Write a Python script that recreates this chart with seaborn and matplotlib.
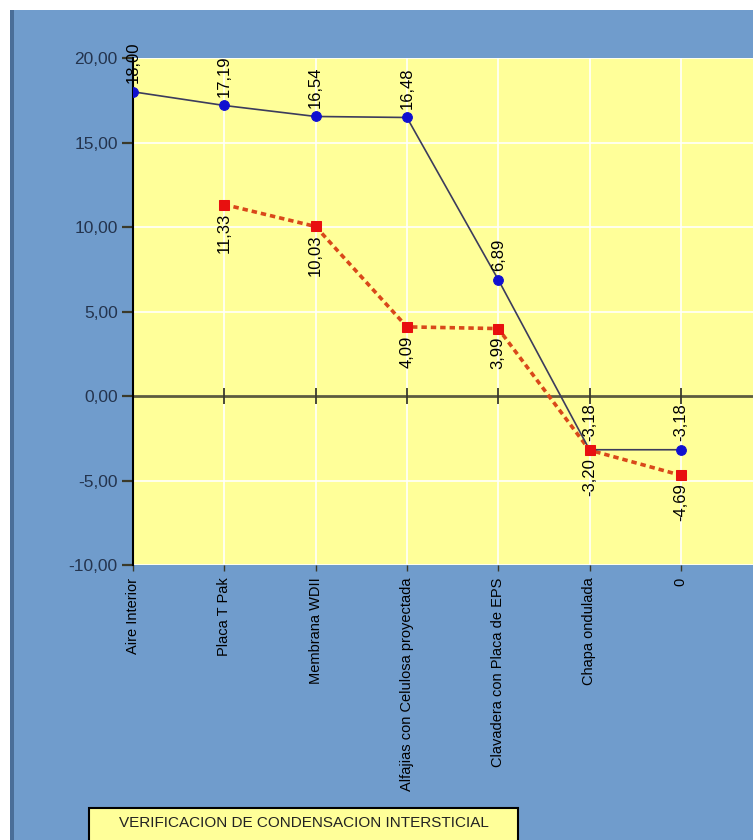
import numpy as np
import pandas as pd
import matplotlib
matplotlib.use('Agg')
import matplotlib.pyplot as plt
from matplotlib.patches import Rectangle
import seaborn as sns

# --- data ---
capas = ['Aire Interior', 'Placa T Pak', 'Membrana WDII', 'Alfajias con Celulosa proyectada',
         'Clavadera con Placa de EPS', 'Chapa ondulada', '0']
temp = [18.00, 17.19, 16.54, 16.48, 6.89, -3.18, -3.18]
rocio = [np.nan, 11.33, 10.03, 4.09, 3.99, -3.20, -4.69]
y_ticks = [20, 15, 10, 5, 0, -5, -10]

df = pd.DataFrame({'pos': range(len(capas)), 'capa': capas, 'temp': temp, 'rocio': rocio})

sns.set_style('white')
plt.rcParams['font.family'] = ['Liberation Sans', 'DejaVu Sans']

W, H = 753, 840
fig = plt.figure(figsize=(W / 100, H / 100), dpi=100, facecolor='white')

# blue panel + darker left border (behind the axes)
fig.patches.append(Rectangle((10 / W, 0), 1 - 10 / W, 1 - 10 / H, transform=fig.transFigure,
                             facecolor='#709CCC', edgecolor='none', zorder=-2))
fig.patches.append(Rectangle((10 / W, 0), 4 / W, 1 - 10 / H, transform=fig.transFigure,
                             facecolor='#4A6E98', edgecolor='none', zorder=-1))

ax = fig.add_axes([133 / W, 1 - 565 / H, 1 - 133 / W, (565 - 58) / H])
ax.set_facecolor('#FFFF99')

step = 91.3
ax.set_xlim(0, (W - 133) / step)
ax.set_ylim(-10, 20)

# grid
ax.set_yticks(y_ticks)
ax.set_xticks(df['pos'])
ax.grid(True, color='white', lw=1.3, alpha=0.9)
ax.set_axisbelow(True)

# zero line with small category ticks
ax.axhline(0, color='#5C5C3C', lw=2, zorder=2)
ax.scatter(df['pos'][1:], np.zeros(len(df) - 1), marker='|', s=120, color='#3A3A2A', lw=1.3, zorder=3)

sns.lineplot(data=df, x='pos', y='rocio', ax=ax, color='#D9481A', lw=2.6, zorder=4)
ax.lines[-1].set_dashes([1.5, 1.1])
sns.lineplot(data=df, x='pos', y='rocio', ax=ax, color='none', marker='s', markersize=7.5,
             markerfacecolor='#E81010', markeredgecolor='#E81010', lw=0, zorder=6)
sns.lineplot(data=df, x='pos', y='temp', ax=ax, color='#3C3C5C', lw=1.2, marker='o', markersize=7,
             markerfacecolor='#1010D0', markeredgecolor='#1010D0', zorder=5)

def fmt(v):
    return f'{v:.2f}'.replace('.', ',')

for x, v in zip(df['pos'], df['temp']):
    ax.annotate(fmt(v), (x, v), xytext=(0, 6), textcoords='offset points', rotation=90,
                ha='center', va='bottom', fontsize=12, color='black', zorder=7, annotation_clip=False)
for x, v in zip(df['pos'], df['rocio']):
    if np.isnan(v):
        continue
    ax.annotate(fmt(v), (x, v), xytext=(0, -6), textcoords='offset points', rotation=90,
                ha='center', va='top', fontsize=12, color='black', zorder=7)

ax.set_yticklabels([fmt(v) for v in y_ticks], fontsize=12.5, color='#24344E')
ax.set_xticklabels(df['capa'], rotation=90, fontsize=10.5, color='black', va='top')
ax.tick_params(axis='y', direction='out', length=8, width=1.6, color='#3A3A2A', pad=3, left=True)
ax.tick_params(axis='x', direction='out', length=4, width=1, color='#3A3A2A', pad=5, bottom=True)
ax.set_xlabel('')
ax.set_ylabel('')

for s in ['top', 'right', 'bottom']:
    ax.spines[s].set_visible(False)
ax.spines['left'].set_color('black')
ax.spines['left'].set_linewidth(1.5)

# title box at the bottom
fig.patches.append(Rectangle((89 / W, -0.01), (518 - 89) / W, (840 - 808) / H + 0.01,
                             transform=fig.transFigure, facecolor='#FFFF99',
                             edgecolor='black', lw=1.5, zorder=1))
fig.text((89 + 518) / 2 / W, 1 - 823 / H, 'VERIFICACION DE CONDENSACION INTERSTICIAL',
         ha='center', va='center', fontsize=11, color='#222222')

fig.savefig('out.png', dpi=100, facecolor='white')
